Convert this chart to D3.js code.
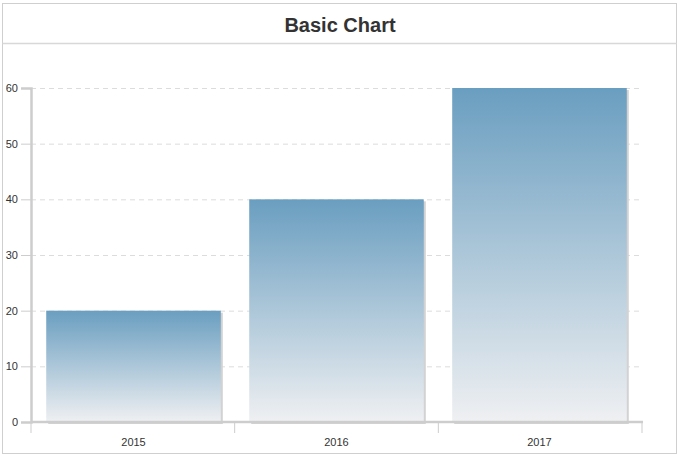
<!DOCTYPE html>
<html>
<head>
<meta charset="utf-8">
<script src="https://cdn.jsdelivr.net/npm/d3@7"></script>
<style>
  body { margin: 0; background: #fff; font-family: Arial, "Liberation Sans", sans-serif; }
</style>
</head>
<body>
<svg id="svg" width="681" height="459"></svg>
<script>
// chart data
var years = ["2015", "2016", "2017"];
var values = [20, 40, 60];
var yTicks = [0, 10, 20, 30, 40, 50, 60];

const svg = d3.select("#svg");
const plotLeft = 31, plotRight = 642, plotTop = 88, plotBottom = 422;

// frame + title band
svg.append("rect").attr("x", 2.5).attr("y", 3.5).attr("width", 674).attr("height", 450)
   .style("fill", "#fff").style("stroke", "#cfcfcf");
svg.append("line").attr("x1", 2.5).attr("x2", 676.5).attr("y1", 43.5).attr("y2", 43.5)
   .style("stroke", "#d8d8d8").style("stroke-width", 1.5);
svg.append("text").attr("x", 340).attr("y", 32)
   .attr("text-anchor", "middle")
   .style("font-size", "20px").style("font-weight", "bold").style("fill", "#333")
   .text("Basic Chart");

const x = d3.scaleBand().domain(years).range([plotLeft, plotRight])
            .paddingInner(0.14).paddingOuter(0.075);
const y = d3.scaleLinear().domain([0, 60]).range([plotBottom, plotTop]);

// gradient for bars
const grad = svg.append("defs").append("linearGradient")
   .attr("id", "barGrad").attr("x1", 0).attr("y1", 0).attr("x2", 0).attr("y2", 1);
grad.append("stop").attr("offset", "0%").attr("stop-color", "#6a9ec0");
grad.append("stop").attr("offset", "100%").attr("stop-color", "#eff0f2");

// grid lines
svg.append("g").attr("class", "grid").selectAll("line").data(yTicks.filter(d => d > 0)).join("line")
   .attr("x1", plotLeft).attr("x2", plotRight)
   .attr("y1", d => y(d) + 0.5).attr("y2", d => y(d) + 0.5)
   .style("stroke", "#dcdcdc").style("stroke-dasharray", "5,4");

// bar shadows
svg.append("g").selectAll("rect").data(values).join("rect")
   .attr("x", (d, i) => x(years[i]) + 2)
   .attr("y", d => y(d) + 2)
   .attr("width", x.bandwidth())
   .attr("height", d => plotBottom - y(d))
   .style("fill", "#d2d2d2");

// bars
svg.append("g").selectAll("rect").data(values).join("rect")
   .attr("x", (d, i) => x(years[i]))
   .attr("y", d => y(d))
   .attr("width", x.bandwidth())
   .attr("height", d => plotBottom - y(d))
   .style("fill", "url(#barGrad)");

// y axis
const yAxis = svg.append("g").attr("transform", "translate(" + plotLeft + ",0)")
   .call(d3.axisLeft(y).tickValues(yTicks).tickSize(10).tickPadding(3));
// x axis
const xTickScale = d3.scaleLinear().domain([0, 3]).range([plotLeft, plotRight]);
const xAxis = svg.append("g").attr("transform", "translate(0," + plotBottom + ")");
xAxis.append("line").attr("class", "base")
   .attr("x1", plotLeft).attr("x2", plotRight + 1).attr("y1", 0).attr("y2", 0);
xAxis.selectAll("line.tk").data([0, 1, 2, 3]).join("line").attr("class", "tk")
   .attr("x1", d => xTickScale(d)).attr("x2", d => xTickScale(d))
   .attr("y1", 0).attr("y2", 11);
xAxis.selectAll("text").data(years).join("text")
   .attr("x", d => x(d) + x.bandwidth() / 2).attr("y", 24)
   .attr("text-anchor", "middle").text(d => d);

yAxis.select(".domain").style("stroke", "#cdcdcd").style("stroke-width", 2.5);
yAxis.selectAll(".tick line").style("stroke", "#cdcdcd");
xAxis.select("line.base").style("stroke", "#cdcdcd").style("stroke-width", 2.5);
xAxis.selectAll("line.tk").style("stroke", "#cdcdcd");
svg.selectAll("g text").style("font-size", "11px").style("fill", "#333")
   .style("font-family", "Arial, 'Liberation Sans', sans-serif");
</script>
</body>
</html>
